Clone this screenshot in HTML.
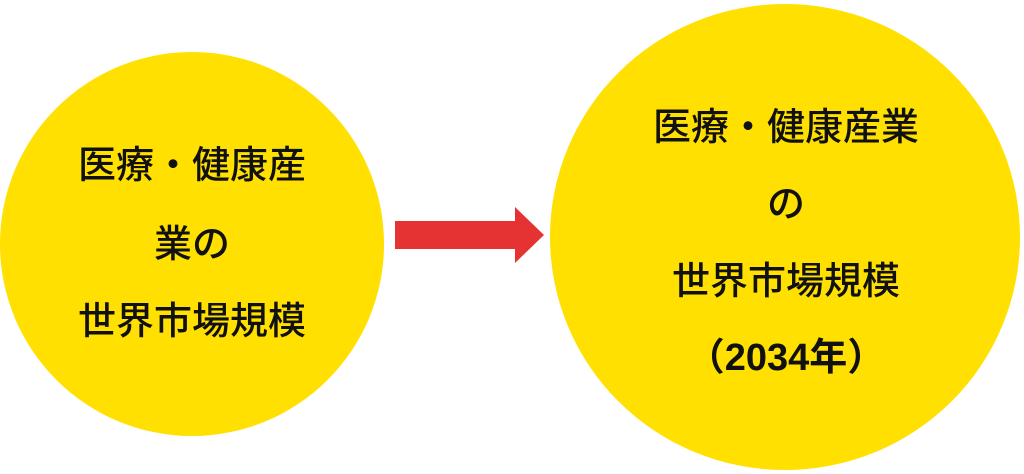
<!DOCTYPE html>
<html><head><meta charset="utf-8"><style>
body{margin:0;width:1024px;height:474px;background:#fff;position:relative;overflow:hidden;font-family:"Liberation Sans","Noto Sans CJK JP",sans-serif;}
.c{position:absolute;border-radius:50%;background:#FFE000;}
.t{position:absolute;width:600px;text-align:center;font-size:38px;font-weight:500;color:#111;line-height:1;transform:translate(-50%,-50%);white-space:nowrap;}
</style></head><body>
<div class="c" style="left:0;top:52px;width:384px;height:384px"></div>
<div class="c" style="left:550px;top:4px;width:470px;height:466px"></div>
<svg style="position:absolute;left:0;top:0" width="1024" height="474"><polygon points="395,221 515,221 515,207 544,235 515,263 515,249 395,249" fill="#E53333"/></svg>
<div class="t" style="left:192px;top:166px">医療・健康産</div>
<div class="t" style="left:192px;top:245px">業の</div>
<div class="t" style="left:192px;top:322px">世界市場規模</div>
<div class="t" style="left:786px;top:128px">医療・健康産業</div>
<div class="t" style="left:786px;top:205px">の</div>
<div class="t" style="left:786px;top:282px">世界市場規模</div>
<div class="t" style="left:786px;top:358px;font-weight:bold">（2034年）</div>
</body></html>
